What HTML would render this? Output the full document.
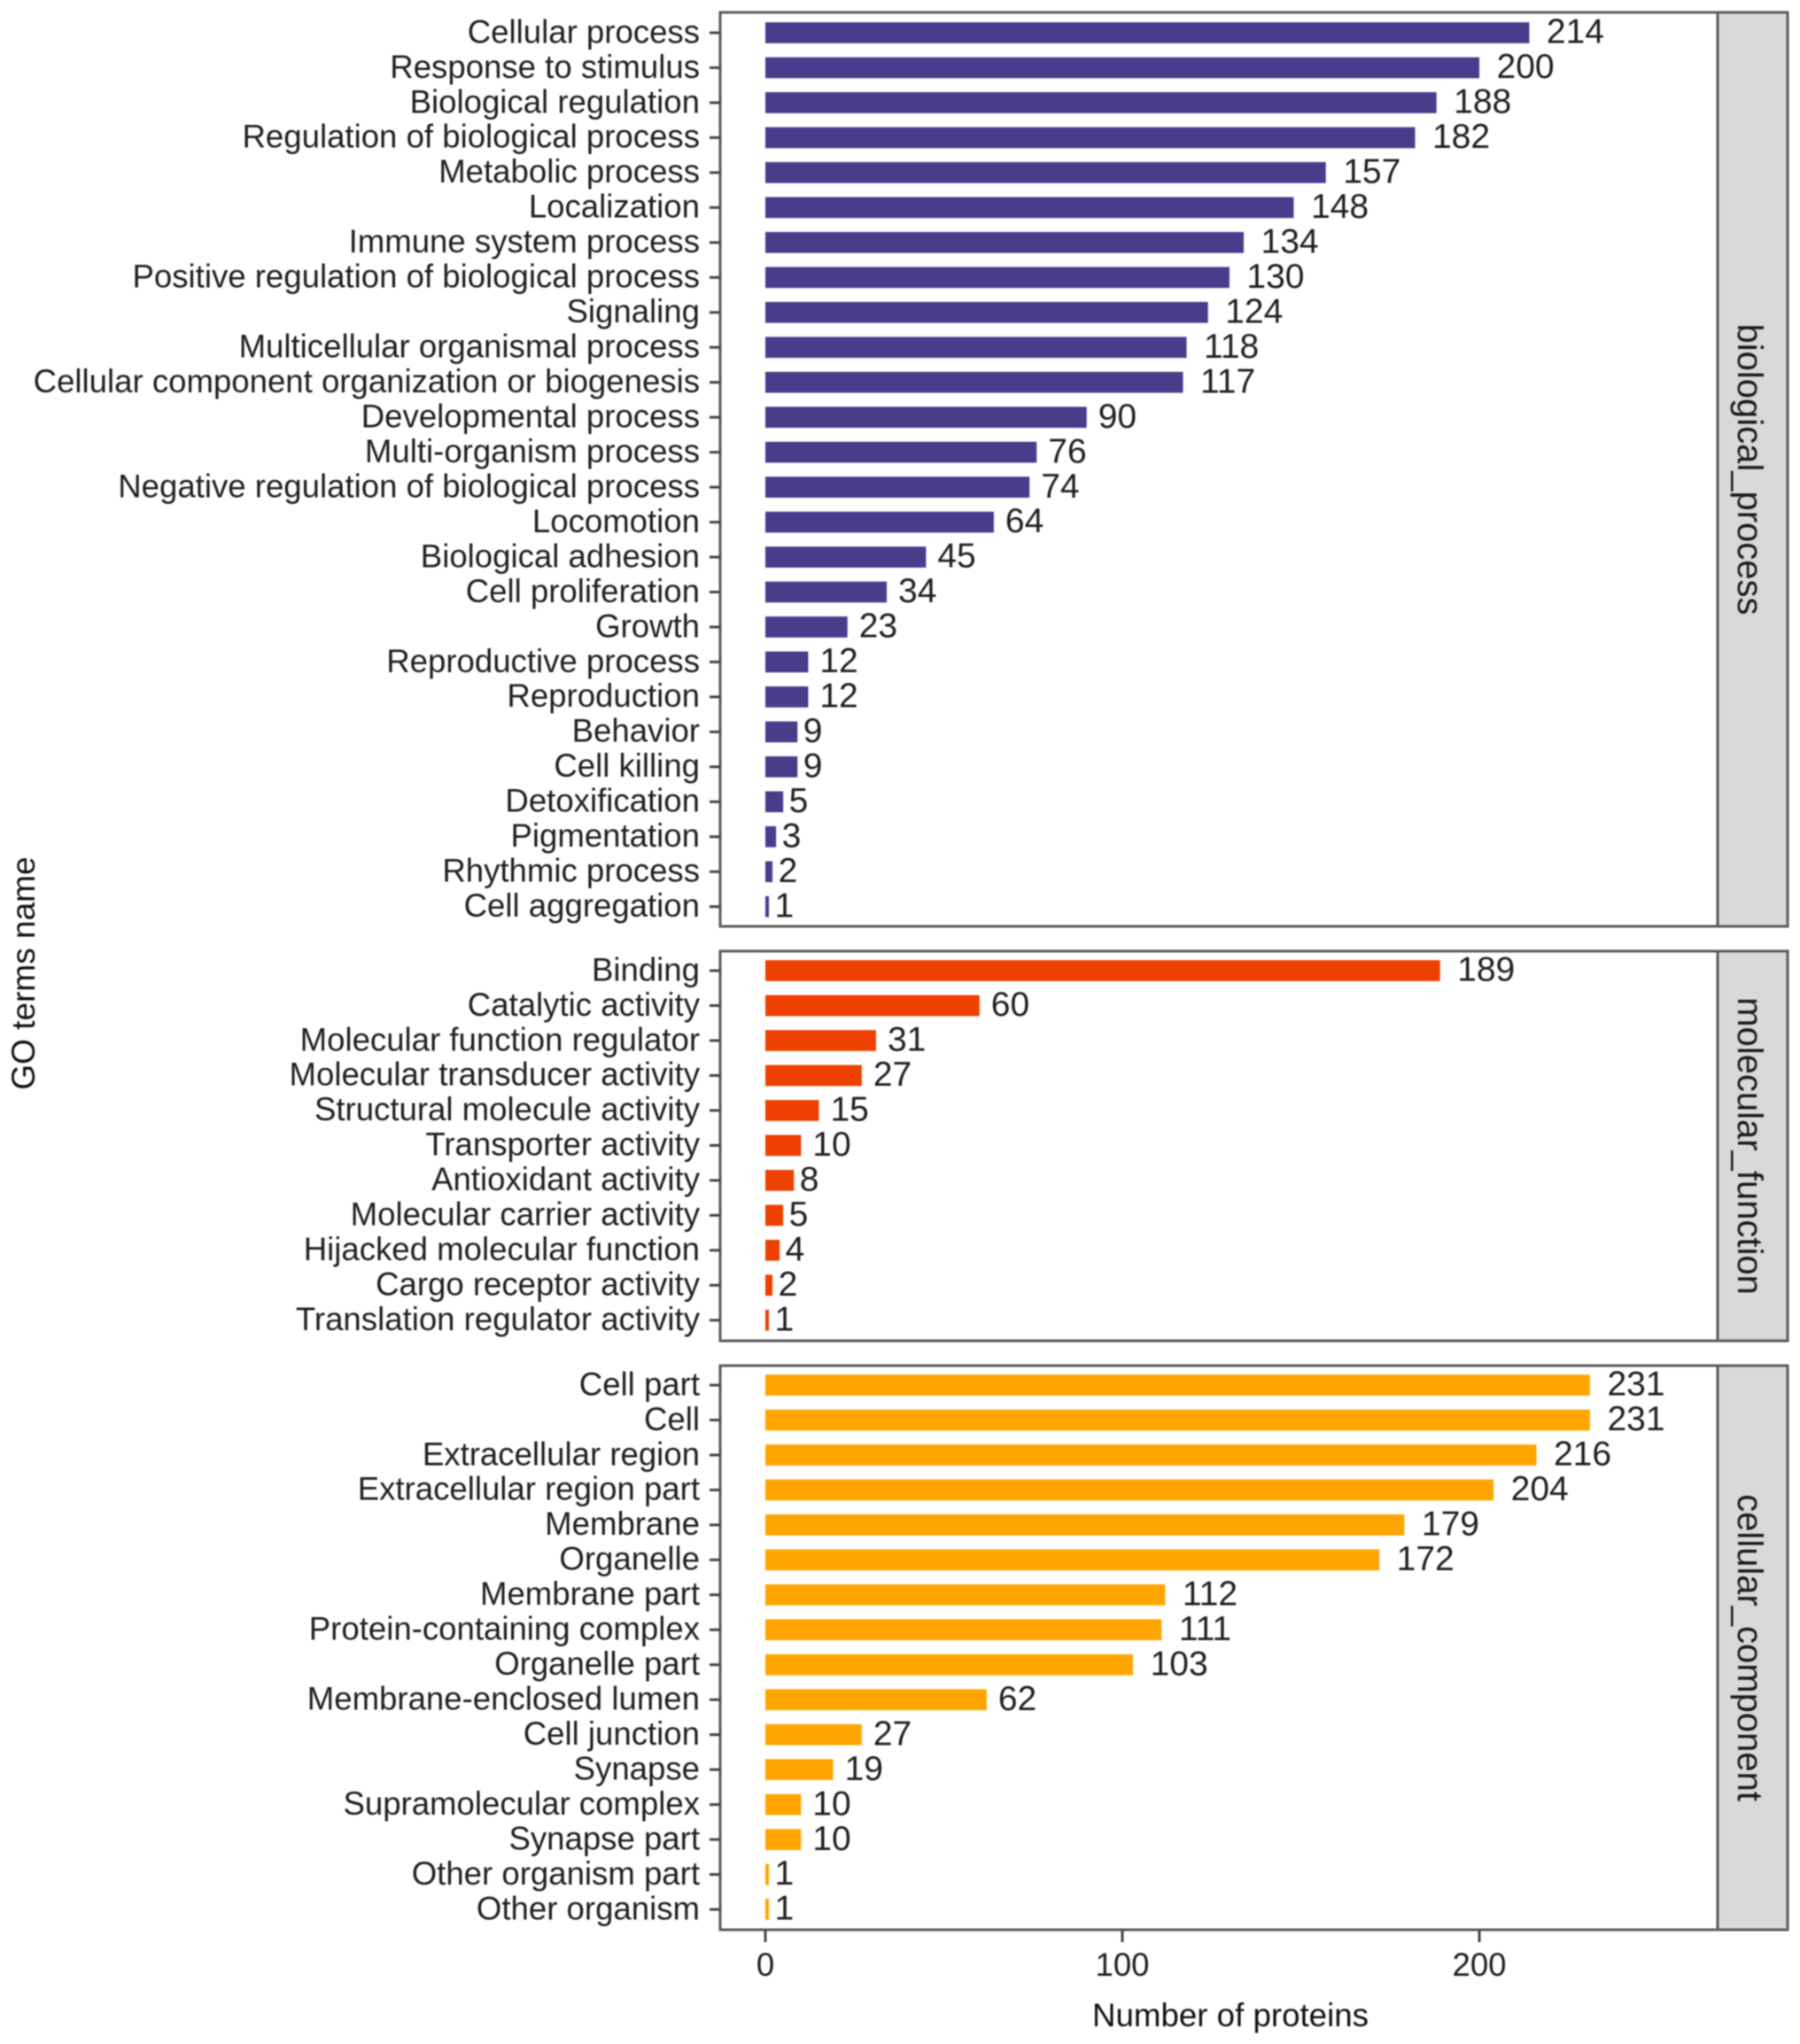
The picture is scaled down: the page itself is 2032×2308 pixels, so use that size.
<!DOCTYPE html>
<html>
<head>
<meta charset="utf-8">
<title>GO terms bar chart</title>
<style>
  html, body { margin: 0; padding: 0; background: #fff; }
  body { width: 2032px; height: 2308px; overflow: hidden; }
  svg { display: block; filter: blur(0.7px); }
  text { font-family: "Liberation Sans", Arial, sans-serif; }
</style>
</head>
<body>
<svg id="chart" xmlns="http://www.w3.org/2000/svg" width="2032" height="2308" viewBox="0 0 2032 2308"></svg>
<script>
const bpTerms = ["Cellular process","Response to stimulus","Biological regulation","Regulation of biological process","Metabolic process","Localization","Immune system process","Positive regulation of biological process","Signaling","Multicellular organismal process","Cellular component organization or biogenesis","Developmental process","Multi-organism process","Negative regulation of biological process","Locomotion","Biological adhesion","Cell proliferation","Growth","Reproductive process","Reproduction","Behavior","Cell killing","Detoxification","Pigmentation","Rhythmic process","Cell aggregation"];
const bpValues = [214,200,188,182,157,148,134,130,124,118,117,90,76,74,64,45,34,23,12,12,9,9,5,3,2,1];
const mfTerms = ["Binding","Catalytic activity","Molecular function regulator","Molecular transducer activity","Structural molecule activity","Transporter activity","Antioxidant activity","Molecular carrier activity","Hijacked molecular function","Cargo receptor activity","Translation regulator activity"];
const mfValues = [189,60,31,27,15,10,8,5,4,2,1];
const ccTerms = ["Cell part","Cell","Extracellular region","Extracellular region part","Membrane","Organelle","Membrane part","Protein-containing complex","Organelle part","Membrane-enclosed lumen","Cell junction","Synapse","Supramolecular complex","Synapse part","Other organism part","Other organism"];
const ccValues = [231,231,216,204,179,172,112,111,103,62,27,19,10,10,1,1];
const xTickValues = [0,100,200];

const svg = document.getElementById('chart');
const NS = 'http://www.w3.org/2000/svg';
const BORDER = '#5a5a5a';
const INK = '#1f1f1f';

const plotLeft = 813, plotRight = 1939, stripRight = 2018;
const labelFont = 36.6, valueFont = 39;
const rowStep = 39.47;

function xScale(v) { return 864 + v * 4.03; }
function yScale(i, firstY) { return firstY + i * rowStep; }

function make(tag, attrs, parent) {
  const el = document.createElementNS(NS, tag);
  for (const k in attrs) el.setAttribute(k, attrs[k]);
  (parent || svg).appendChild(el);
  return el;
}

function drawPanel(key, title, terms, values, color, top, bottom, firstY) {
  const group = make('g', {});
  
  

  const strip = make('rect', { x: plotRight, y: top, width: stripRight - plotRight, height: bottom - top, fill: '#d9d9d9', stroke: BORDER, 'stroke-width': 3 }, group);
  
  

  const frame = make('rect', { x: plotLeft, y: top, width: plotRight - plotLeft, height: bottom - top, fill: '#fff', stroke: BORDER, 'stroke-width': 3 }, group);
  
  

  const stripCy = (top + bottom) / 2;
  const stripText = make('text', { x: 0, y: 0, transform: 'translate(1976 ' + stripCy + ') rotate(90)', 'text-anchor': 'middle', dy: '0.35em', 'font-size': 40, fill: '#1a1a1a' }, group);
  stripText.textContent = title;
  
  

  terms.forEach(function (term, i) {
    const y = yScale(i, firstY);
    const v = values[i];

    const tick = make('line', { x1: 801, x2: plotLeft, y1: y, y2: y, stroke: '#444', 'stroke-width': 3 }, group);
    
    

    const label = make('text', { x: 790, y: y - 1.5 + labelFont * 0.35, 'text-anchor': 'end', 'font-size': labelFont, fill: INK }, group);
    label.textContent = term;
    
    

    const bar = make('rect', { x: xScale(0), y: y - rowStep * 0.3, width: xScale(v) - xScale(0), height: rowStep * 0.6, fill: color }, group);
    
    

    const digits = String(v).length;
    const value = make('text', { x: xScale(v) + 0.3 * digits * 0.556 * valueFont, y: y - 2 + valueFont * 0.35, 'text-anchor': 'start', 'font-size': valueFont, fill: INK }, group);
    value.textContent = String(v);
    
    
  });
}

drawPanel('biological-process', 'biological_process', bpTerms, bpValues, '#483d8b', 14, 1046, 37);
drawPanel('molecular-function', 'molecular_function', mfTerms, mfValues, '#ee4000', 1074, 1514, 1096);
drawPanel('cellular-component', 'cellular_component', ccTerms, ccValues, '#ffa500', 1542, 2179, 1564);

xTickValues.forEach(function (t) {
  const x = xScale(t);
  const tick = make('line', { x1: x, x2: x, y1: 2179, y2: 2193, stroke: '#444', 'stroke-width': 3 });
  
  

  const label = make('text', { x: x, y: 2231, 'text-anchor': 'middle', 'font-size': labelFont, fill: INK });
  label.textContent = String(t);
  
  
});

const xTitle = make('text', { x: 1389, y: 2288, 'text-anchor': 'middle', 'font-size': 36.7, fill: '#111' });
xTitle.textContent = 'Number of proteins';



const yTitle = make('text', { x: 0, y: 0, transform: 'translate(39 1099) rotate(-90)', 'text-anchor': 'middle', 'font-size': 37, fill: '#111' });
yTitle.textContent = 'GO terms name';


</script>
</body>
</html>
